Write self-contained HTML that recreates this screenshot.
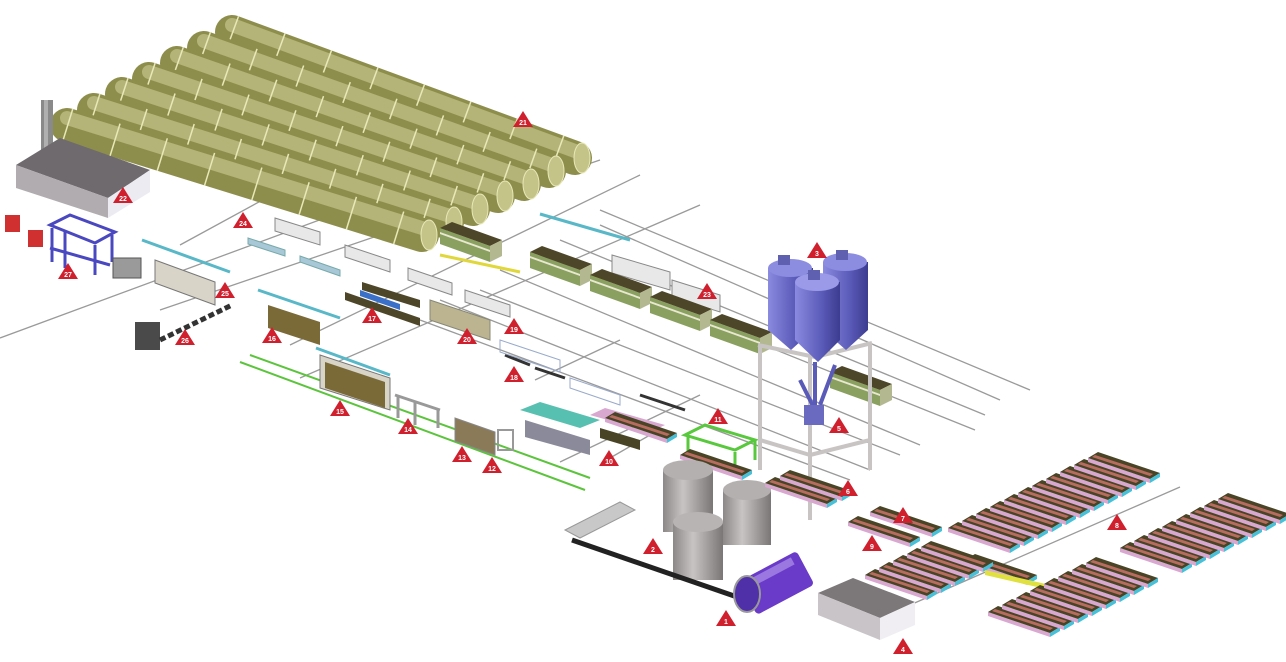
<!DOCTYPE html>
<html><head><meta charset="utf-8"><style>
html,body{margin:0;padding:0;background:#fff;width:1286px;height:662px;overflow:hidden}
svg{display:block}
.t text{font-family:"Liberation Sans",sans-serif;font-size:7px;fill:#fff;text-anchor:middle;font-weight:bold}
</style></head><body>
<svg width="1286" height="662" viewBox="0 0 1286 662" xmlns="http://www.w3.org/2000/svg">
<defs>
<linearGradient id="silo" x1="0" y1="0" x2="1" y2="0"><stop offset="0" stop-color="#8a8ae0"/><stop offset="0.6" stop-color="#5a5ab8"/><stop offset="1" stop-color="#3c3c90"/></linearGradient>
<linearGradient id="tank" x1="0" y1="0" x2="1" y2="0"><stop offset="0" stop-color="#8c8888"/><stop offset="0.4" stop-color="#c8c4c4"/><stop offset="1" stop-color="#7a7676"/></linearGradient>
<g id="pal">
<polygon points="0,0 62,21 62,25 0,4" fill="#d9a8d0"/>
<polygon points="0,0 62,21 72,15 10,-6" fill="#4a4426"/>
<polygon points="4,-1 62,18 65,16 7,-3" fill="#b86c60"/>
<polygon points="62,21 72,15 72,19 62,25" fill="#48c0d8"/>
</g>
<g id="cake">
<polygon points="0,0 50,18 50,34 0,16" fill="#8aa060"/>
<polygon points="0,4 50,22 50,24 0,6 M0,10 50,28 50,30 0,12" fill="#e8e8d0"/>
<polygon points="0,0 50,18 62,12 12,-6" fill="#4d4628"/>
<polygon points="50,18 62,12 62,28 50,34" fill="#b4b890"/>
</g>
<g id="tri"><polygon points="0,-9 10,7 -10,7" fill="#d0202e"/></g>
</defs>

<g stroke="#9a9a9a" stroke-width="1.3" fill="none">
<line x1="600" y1="210" x2="1030" y2="390"/>
<line x1="600" y1="225" x2="1000" y2="400"/>
<line x1="560" y1="240" x2="985" y2="415"/>
<line x1="540" y1="255" x2="975" y2="430"/>
<line x1="500" y1="270" x2="920" y2="445"/>
<line x1="480" y1="290" x2="900" y2="455"/>
<line x1="440" y1="300" x2="870" y2="470"/>
<line x1="420" y1="320" x2="850" y2="480"/>
<line x1="300" y1="378" x2="700" y2="205"/>
<line x1="290" y1="345" x2="640" y2="175"/>
<line x1="160" y1="310" x2="600" y2="160"/>
<line x1="0" y1="338" x2="360" y2="205"/>
<line x1="180" y1="245" x2="290" y2="185"/>
<line x1="560" y1="462" x2="700" y2="395"/>
<line x1="610" y1="458" x2="650" y2="435"/>
<line x1="535" y1="380" x2="620" y2="340"/>
<line x1="910" y1="605" x2="1180" y2="487"/>
</g>
<g stroke="#5cc43c" stroke-width="2">
<line x1="240" y1="362" x2="585" y2="490"/>
<line x1="250" y1="355" x2="590" y2="478"/>
</g>

<!-- autoclaves -->
<g stroke-linecap="round" fill="none">
<line x1="232" y1="32" x2="575" y2="158" stroke="#8e8e4c" stroke-width="34"/>
<line x1="232" y1="25" x2="575" y2="151" stroke="#b4b478" stroke-width="14"/>
<line x1="232" y1="32" x2="575" y2="158" stroke="#e8e8b8" stroke-width="34" stroke-linecap="butt" stroke-dasharray="1.5 48"/>
<line x1="204" y1="48" x2="549" y2="171" stroke="#8e8e4c" stroke-width="34"/>
<line x1="204" y1="41" x2="549" y2="164" stroke="#b4b478" stroke-width="14"/>
<line x1="204" y1="48" x2="549" y2="171" stroke="#e8e8b8" stroke-width="34" stroke-linecap="butt" stroke-dasharray="1.5 48"/>
<line x1="177" y1="63" x2="524" y2="184" stroke="#8e8e4c" stroke-width="34"/>
<line x1="177" y1="56" x2="524" y2="177" stroke="#b4b478" stroke-width="14"/>
<line x1="177" y1="63" x2="524" y2="184" stroke="#e8e8b8" stroke-width="34" stroke-linecap="butt" stroke-dasharray="1.5 48"/>
<line x1="149" y1="79" x2="498" y2="196" stroke="#8e8e4c" stroke-width="34"/>
<line x1="149" y1="72" x2="498" y2="189" stroke="#b4b478" stroke-width="14"/>
<line x1="149" y1="79" x2="498" y2="196" stroke="#e8e8b8" stroke-width="34" stroke-linecap="butt" stroke-dasharray="1.5 48"/>
<line x1="122" y1="94" x2="473" y2="209" stroke="#8e8e4c" stroke-width="34"/>
<line x1="122" y1="87" x2="473" y2="202" stroke="#b4b478" stroke-width="14"/>
<line x1="122" y1="94" x2="473" y2="209" stroke="#e8e8b8" stroke-width="34" stroke-linecap="butt" stroke-dasharray="1.5 48"/>
<line x1="94" y1="110" x2="447" y2="222" stroke="#8e8e4c" stroke-width="34"/>
<line x1="94" y1="103" x2="447" y2="215" stroke="#b4b478" stroke-width="14"/>
<line x1="94" y1="110" x2="447" y2="222" stroke="#e8e8b8" stroke-width="34" stroke-linecap="butt" stroke-dasharray="1.5 48"/>
<line x1="67" y1="125" x2="422" y2="235" stroke="#8e8e4c" stroke-width="34"/>
<line x1="67" y1="118" x2="422" y2="228" stroke="#b4b478" stroke-width="14"/>
<line x1="67" y1="125" x2="422" y2="235" stroke="#e8e8b8" stroke-width="34" stroke-linecap="butt" stroke-dasharray="1.5 48"/>
</g>
<g fill="#c4c488" stroke="#e8e8b8">
<ellipse cx="582" cy="158" rx="8" ry="15"/><ellipse cx="556" cy="171" rx="8" ry="15"/><ellipse cx="531" cy="184" rx="8" ry="15"/><ellipse cx="505" cy="196" rx="8" ry="15"/><ellipse cx="480" cy="209" rx="8" ry="15"/><ellipse cx="454" cy="222" rx="8" ry="15"/><ellipse cx="429" cy="235" rx="8" ry="15"/>
</g>

<!-- building 22 -->
<rect x="41" y="100" width="12" height="68" fill="#8a8a8a"/>
<rect x="44" y="100" width="4" height="68" fill="#b0b0b0"/>
<polygon points="16,165 60,138 150,170 108,198" fill="#6e6a6e"/>
<polygon points="16,165 108,198 108,218 16,188" fill="#b0acb0"/>
<polygon points="108,198 150,170 150,192 108,218" fill="#ecebf2"/>

<rect x="5" y="215" width="15" height="17" fill="#d03030"/>
<rect x="28" y="230" width="15" height="17" fill="#d03030"/>
<g stroke="#4a48c0" stroke-width="3" fill="none">
<polygon points="50,225 70,215 115,232 95,243"/>
<line x1="52" y1="228" x2="52" y2="262"/><line x1="65" y1="232" x2="65" y2="268"/><line x1="95" y1="245" x2="95" y2="275"/><line x1="112" y1="235" x2="112" y2="262"/>
<line x1="50" y1="248" x2="110" y2="265"/>
</g>
<rect x="113" y="258" width="28" height="20" fill="#9a9a9a" stroke="#555"/>
<g fill="#4a4a4a"><rect x="135" y="322" width="25" height="28"/></g>
<line x1="160" y1="340" x2="232" y2="305" stroke="#333" stroke-width="5" stroke-dasharray="6 3"/>

<g stroke="#58b8c8" stroke-width="3" fill="none">
<line x1="142" y1="240" x2="230" y2="272"/>
<line x1="258" y1="290" x2="340" y2="318"/>
<line x1="540" y1="214" x2="630" y2="240"/>
<line x1="316" y1="348" x2="390" y2="375"/>
</g>
<g fill="#d8d4c8" stroke="#777">
<polygon points="155,260 215,282 215,305 155,283"/>
<polygon points="320,355 390,378 390,410 320,388"/>
</g>
<polygon points="268,305 320,322 320,345 268,328" fill="#7a6a38"/>
<polygon points="325,362 385,382 385,408 325,388" fill="#7a6a38"/>
<g fill="#e8e8e8" stroke="#888">
<polygon points="275,218 320,232 320,245 275,231"/>
<polygon points="345,245 390,260 390,272 345,257"/>
<polygon points="408,268 452,283 452,295 408,280"/>
<polygon points="465,290 510,305 510,317 465,302"/>
<polygon points="612,255 670,272 670,290 612,273"/>
<polygon points="672,280 720,295 720,312 672,297"/>
</g>
<g fill="#a8c8d8" stroke="#7aa">
<polygon points="248,238 285,250 285,256 248,244"/>
<polygon points="300,256 340,270 340,276 300,262"/>
</g>
<g fill="#bcb490" stroke="#887"><polygon points="430,300 490,320 490,340 430,320"/></g>
<g fill="#4d4628"><polygon points="345,292 420,318 420,326 345,300"/><polygon points="362,282 420,300 420,308 362,290"/></g>
<polygon points="360,290 400,304 400,310 360,296" fill="#3a70c8"/>

<g stroke="#e0d83a" stroke-width="3"><line x1="440" y1="255" x2="520" y2="272"/><line x1="560" y1="258" x2="610" y2="285"/></g>

<use href="#cake" x="440" y="228"/>
<use href="#cake" x="530" y="252"/>
<use href="#cake" x="590" y="275"/>
<use href="#cake" x="650" y="297"/>
<use href="#cake" x="710" y="320"/>
<use href="#cake" x="830" y="372"/>

<g stroke="#333" stroke-width="3"><line x1="505" y1="355" x2="530" y2="365"/><line x1="535" y1="368" x2="565" y2="378"/><line x1="640" y1="395" x2="685" y2="410"/></g>
<g fill="none" stroke="#9ac" stroke-width="1"><polygon points="500,340 560,360 560,372 500,352"/><polygon points="570,378 620,395 620,405 570,388"/></g>

<g stroke="#999" stroke-width="3" fill="none">
<line x1="395" y1="395" x2="440" y2="410"/><line x1="398" y1="396" x2="398" y2="418"/><line x1="415" y1="402" x2="415" y2="425"/><line x1="438" y1="410" x2="438" y2="428"/>
</g>
<polygon points="455,418 495,432 495,455 455,441" fill="#8a7a58" stroke="#888"/>
<rect x="498" y="430" width="15" height="20" fill="none" stroke="#999" stroke-width="2"/>
<polygon points="520,410 580,428 600,420 540,402" fill="#58c0b0"/>
<polygon points="525,420 590,440 590,455 525,437" fill="#8a8a9a"/>
<polygon points="590,415 650,432 665,425 605,408" fill="#d9a8d0"/>
<polygon points="600,428 640,440 640,450 600,438" fill="#4a4426"/>
<use href="#pal" x="605" y="418"/>

<g stroke="#58c83c" stroke-width="3" fill="none">
<polygon points="685,435 705,425 755,440 735,450"/>
<line x1="688" y1="436" x2="688" y2="458"/><line x1="735" y1="452" x2="735" y2="472"/><line x1="755" y1="440" x2="755" y2="460"/>
</g>
<use href="#pal" x="680" y="455"/>

<!-- silo frame -->
<g stroke="#c8c4c4" stroke-width="4" fill="none">
<line x1="760" y1="345" x2="760" y2="470"/><line x1="810" y1="355" x2="810" y2="520"/><line x1="870" y1="345" x2="870" y2="470"/>
<line x1="758" y1="345" x2="815" y2="357"/><line x1="815" y1="357" x2="872" y2="343"/>
<line x1="760" y1="440" x2="810" y2="455"/><line x1="810" y1="455" x2="870" y2="440"/>
</g>
<g>
<path d="M768 268 h45 v62 l-22 20 l-23 -20 z" fill="url(#silo)"/>
<ellipse cx="790" cy="268" rx="22" ry="9" fill="#8c8ce0"/>
<rect x="778" y="255" width="12" height="10" fill="#6060b0"/>
<path d="M823 262 h45 v68 l-22 20 l-23 -20 z" fill="url(#silo)"/>
<ellipse cx="845" cy="262" rx="22" ry="9" fill="#8c8ce0"/>
<rect x="836" y="250" width="12" height="10" fill="#6060b0"/>
<path d="M795 282 h45 v58 l-22 22 l-23 -22 z" fill="url(#silo)"/>
<ellipse cx="817" cy="282" rx="22" ry="9" fill="#9a9ae8"/>
<rect x="808" y="270" width="12" height="10" fill="#6060b0"/>
</g>
<g stroke="#5a5ab8" stroke-width="4" fill="none"><path d="M815 362 v60 M800 380 l15 30 M835 365 l-15 40"/></g>
<rect x="804" y="405" width="20" height="20" fill="#6a6ac0"/>

<g>
<rect x="663" y="470" width="50" height="62" fill="url(#tank)"/><ellipse cx="688" cy="470" rx="25" ry="10" fill="#b4b0b0"/>
<rect x="723" y="490" width="48" height="55" fill="url(#tank)"/><ellipse cx="747" cy="490" rx="24" ry="10" fill="#b4b0b0"/>
<rect x="673" y="522" width="50" height="58" fill="url(#tank)"/><ellipse cx="698" cy="522" rx="25" ry="10" fill="#b8b4b4"/>
</g>
<line x1="572" y1="540" x2="740" y2="598" stroke="#222" stroke-width="5"/>
<polygon points="565,530 620,502 635,510 580,538" fill="#c8c8c8" stroke="#999"/>
<g transform="rotate(-28 775 585)"><rect x="745" y="565" width="65" height="38" rx="4" fill="#6a3ac8"/><rect x="752" y="568" width="50" height="8" fill="#9a78e0"/></g>
<ellipse cx="747" cy="594" rx="13" ry="18" fill="#5030a8" stroke="#999" stroke-width="2"/>

<polygon points="818,593 853,578 915,602 880,618" fill="#7c787a"/>
<polygon points="818,593 880,618 880,640 818,615" fill="#c8c4c8"/>
<polygon points="880,618 915,602 915,625 880,640" fill="#f0eef2"/>

<use href="#pal" x="765" y="483"/><use href="#pal" x="780" y="476"/>
<use href="#pal" x="848" y="522"/><use href="#pal" x="870" y="512"/>
<use href="#pal" x="965" y="560"/>
<g>
<use href="#pal" x="948" y="528"/><use href="#pal" x="962" y="521"/><use href="#pal" x="976" y="514"/><use href="#pal" x="990" y="507"/><use href="#pal" x="1004" y="500"/><use href="#pal" x="1018" y="493"/><use href="#pal" x="1032" y="486"/><use href="#pal" x="1046" y="479"/><use href="#pal" x="1060" y="472"/><use href="#pal" x="1074" y="465"/><use href="#pal" x="1088" y="458"/>
</g>
<g>
<use href="#pal" x="1120" y="548"/><use href="#pal" x="1134" y="541"/><use href="#pal" x="1148" y="534"/><use href="#pal" x="1162" y="527"/><use href="#pal" x="1176" y="520"/><use href="#pal" x="1190" y="513"/><use href="#pal" x="1204" y="506"/><use href="#pal" x="1218" y="499"/>
</g>
<g>
<use href="#pal" x="865" y="575"/><use href="#pal" x="879" y="568"/><use href="#pal" x="893" y="561"/><use href="#pal" x="907" y="554"/><use href="#pal" x="921" y="547"/>
</g>
<polygon points="985,570 1050,585 1050,590 985,575" fill="#e0e040"/>
<g>
<use href="#pal" x="988" y="612"/><use href="#pal" x="1002" y="605"/><use href="#pal" x="1016" y="598"/><use href="#pal" x="1030" y="591"/><use href="#pal" x="1044" y="584"/><use href="#pal" x="1058" y="577"/><use href="#pal" x="1072" y="570"/><use href="#pal" x="1086" y="563"/>
</g>

<g class="t">
<g transform="translate(523,120)"><use href="#tri"/><text y="5">21</text></g>
<g transform="translate(123,196)"><use href="#tri"/><text y="5">22</text></g>
<g transform="translate(243,221)"><use href="#tri"/><text y="5">24</text></g>
<g transform="translate(68,272)"><use href="#tri"/><text y="5">27</text></g>
<g transform="translate(225,291)"><use href="#tri"/><text y="5">25</text></g>
<g transform="translate(185,338)"><use href="#tri"/><text y="5">26</text></g>
<g transform="translate(272,336)"><use href="#tri"/><text y="5">16</text></g>
<g transform="translate(372,316)"><use href="#tri"/><text y="5">17</text></g>
<g transform="translate(467,337)"><use href="#tri"/><text y="5">20</text></g>
<g transform="translate(514,327)"><use href="#tri"/><text y="5">19</text></g>
<g transform="translate(514,375)"><use href="#tri"/><text y="5">18</text></g>
<g transform="translate(707,292)"><use href="#tri"/><text y="5">23</text></g>
<g transform="translate(817,251)"><use href="#tri"/><text y="5">3</text></g>
<g transform="translate(340,409)"><use href="#tri"/><text y="5">15</text></g>
<g transform="translate(408,427)"><use href="#tri"/><text y="5">14</text></g>
<g transform="translate(462,455)"><use href="#tri"/><text y="5">13</text></g>
<g transform="translate(492,466)"><use href="#tri"/><text y="5">12</text></g>
<g transform="translate(609,459)"><use href="#tri"/><text y="5">10</text></g>
<g transform="translate(718,417)"><use href="#tri"/><text y="5">11</text></g>
<g transform="translate(839,426)"><use href="#tri"/><text y="5">5</text></g>
<g transform="translate(848,489)"><use href="#tri"/><text y="5">6</text></g>
<g transform="translate(903,516)"><use href="#tri"/><text y="5">7</text></g>
<g transform="translate(872,544)"><use href="#tri"/><text y="5">9</text></g>
<g transform="translate(1117,523)"><use href="#tri"/><text y="5">8</text></g>
<g transform="translate(653,547)"><use href="#tri"/><text y="5">2</text></g>
<g transform="translate(726,619)"><use href="#tri"/><text y="5">1</text></g>
<g transform="translate(903,647)"><use href="#tri"/><text y="5">4</text></g>
</g>
</svg>
</body></html>
